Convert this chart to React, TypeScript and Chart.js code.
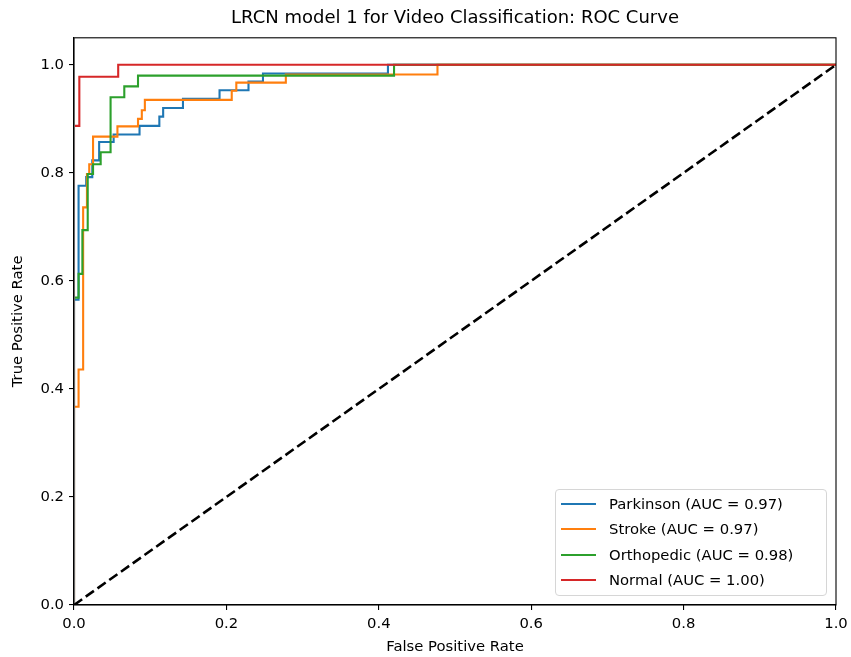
import React, { useEffect, useRef } from "react";
import { Chart, registerables } from "chart.js";

Chart.register(...registerables);

const chartTitle = "LRCN model 1 for Video Classification: ROC Curve";
const xLabel = "False Positive Rate";
const yLabel = "True Positive Rate";
const classNames = ["Parkinson", "Stroke", "Orthopedic", "Normal"];
const aucValues = [0.97, 0.97, 0.98, 1.0];
const classColors = ["#1f77b4", "#ff7f0e", "#2ca02c", "#d62728"];
const tickValues = [0, 0.2, 0.4, 0.6, 0.8, 1.0];

const parkinsonFpr = [0, 0, 0.006, 0.006, 0.016, 0.016, 0.024, 0.024, 0.033, 0.033, 0.052, 0.052, 0.086, 0.086, 0.112, 0.112, 0.117, 0.117, 0.143, 0.143, 0.191, 0.191, 0.229, 0.229, 0.248, 0.248, 0.412, 0.412, 1.0];
const parkinsonTpr = [0, 0.565, 0.565, 0.776, 0.776, 0.792, 0.792, 0.823, 0.823, 0.857, 0.857, 0.871, 0.871, 0.887, 0.887, 0.904, 0.904, 0.92, 0.92, 0.937, 0.937, 0.953, 0.953, 0.969, 0.969, 0.984, 0.984, 1.0, 1.0];

const strokeFpr = [0, 0, 0.006, 0.006, 0.012, 0.012, 0.017, 0.017, 0.02, 0.02, 0.025, 0.025, 0.057, 0.057, 0.084, 0.084, 0.089, 0.089, 0.093, 0.093, 0.207, 0.207, 0.213, 0.213, 0.278, 0.278, 0.477, 0.477, 1.0];
const strokeTpr = [0, 0.367, 0.367, 0.436, 0.436, 0.736, 0.736, 0.798, 0.798, 0.816, 0.816, 0.867, 0.867, 0.886, 0.886, 0.9, 0.9, 0.916, 0.916, 0.935, 0.935, 0.952, 0.952, 0.967, 0.967, 0.982, 0.982, 1.0, 1.0];

const orthopedicFpr = [0, 0, 0.006, 0.006, 0.011, 0.011, 0.018, 0.018, 0.025, 0.025, 0.035, 0.035, 0.048, 0.048, 0.066, 0.066, 0.084, 0.084, 0.42, 0.42, 1.0];
const orthopedicTpr = [0, 0.569, 0.569, 0.613, 0.613, 0.694, 0.694, 0.798, 0.798, 0.816, 0.816, 0.838, 0.838, 0.94, 0.94, 0.96, 0.96, 0.98, 0.98, 1.0, 1.0];

const normalFpr = [0, 0, 0.007, 0.007, 0.058, 0.058, 1.0];
const normalTpr = [0, 0.887, 0.887, 0.978, 0.978, 1.0, 1.0];

const chanceFpr = [0, 1];
const chanceTpr = [0, 1];

const seriesFpr = [parkinsonFpr, strokeFpr, orthopedicFpr, normalFpr];
const seriesTpr = [parkinsonTpr, strokeTpr, orthopedicTpr, normalTpr];

const FONT = "DejaVu Sans";

function toPoints(xs: number[], ys: number[]) {
  return xs.map((x, i) => ({ x, y: ys[i] }));
}

function legendText(i: number) {
  return `${classNames[i]} (AUC = ${aucValues[i].toFixed(2)})`;
}

export default function App() {
  const ref = useRef<HTMLCanvasElement>(null);

  useEffect(() => {
    document.body.style.margin = "0";
    const frame = {
      id: "frame",
      afterDatasetsDraw(chart: any) {
        const { ctx, chartArea: a } = chart;
        ctx.save();
        ctx.strokeStyle = "#000";
        ctx.lineWidth = 1.1;
        ctx.strokeRect(a.left, a.top, a.right - a.left, a.bottom - a.top);
        ctx.restore();
      },
    };

    const datasets: any[] = classNames.map((name, i) => ({
      label: legendText(i),
      data: toPoints(seriesFpr[i], seriesTpr[i]),
      borderColor: classColors[i],
      backgroundColor: classColors[i],
      borderWidth: 2.1,
      pointRadius: 0,
      tension: 0,
      fill: false,
      order: 4 - i,
      clip: { left: -1, right: 2, top: 2, bottom: 0 },
      borderJoinStyle: "miter",
      borderCapStyle: "butt",
    }));
    datasets.push({
      label: "chance",
      data: toPoints(chanceFpr, chanceTpr),
      borderColor: "#000",
      borderWidth: 2.6,
      borderDash: [10, 4.4],
      pointRadius: 0,
      fill: false,
      order: 0,
      clip: { left: 0, right: 0, top: 0, bottom: 0 },
    });

    const tickFont = { family: FONT, size: 14.8 };

    const chart = new Chart(ref.current as HTMLCanvasElement, {
      type: "line",
      data: { datasets },
      options: {
        responsive: false,
        animation: false,
        events: [],
        layout: { padding: { left: 0, right: 15, top: 0, bottom: 0 } },
        plugins: {
          legend: { display: false },
          tooltip: { enabled: false },
          title: {
            display: true,
            text: chartTitle,
            color: "#000",
            fullSize: false,
            font: { family: FONT, size: 18, weight: "normal" },
            padding: { top: 7.2, bottom: 9 },
          },
        },
        scales: {
          x: {
            type: "linear",
            min: 0,
            max: 1,
            afterFit: (s: any) => {
              s.height = 52;
              s.paddingLeft = 0;
              s.paddingRight = 0;
            },
            afterBuildTicks: (s: any) => {
              s.ticks = tickValues.map((v) => ({ value: v }));
            },
            ticks: {
              callback: (v: any) => Number(v).toFixed(1),
              color: "#000",
              font: tickFont,
              padding: 5,
              maxRotation: 0,
              autoSkip: false,
            },
            grid: {
              drawOnChartArea: false,
              drawTicks: true,
              tickLength: 5,
              color: "#000",
              lineWidth: 1.1,
            },
            border: { display: true, color: "#000", width: 1.1 },
            title: {
              display: true,
              text: xLabel,
              color: "#000",
              font: tickFont,
              padding: { top: 0, bottom: 1.1 },
            },
          },
          y: {
            type: "linear",
            min: 0,
            max: 1.05,
            afterFit: (s: any) => {
              s.width = 74;
              s.paddingTop = 0;
              s.paddingBottom = 0;
            },
            afterBuildTicks: (s: any) => {
              s.ticks = tickValues.map((v) => ({ value: v }));
            },
            ticks: {
              callback: (v: any) => Number(v).toFixed(1),
              color: "#000",
              font: tickFont,
              padding: 5,
              autoSkip: false,
            },
            grid: {
              drawOnChartArea: false,
              drawTicks: true,
              tickLength: 5,
              color: "#000",
              lineWidth: 1.1,
            },
            border: { display: true, color: "#000", width: 1.1 },
            title: {
              display: true,
              text: yLabel,
              color: "#000",
              font: tickFont,
              padding: { top: 9.1, bottom: 0 },
            },
          },
        },
      } as any,
      plugins: [frame],
    });
    return () => chart.destroy();
  }, []);

  const rowCenters = [13.7, 39.3, 65, 90.3];

  return (
    <div style={{ position: "absolute", left: 0, top: 0, width: 851, height: 657 }}>
      <canvas ref={ref} width={851} height={657} style={{ display: "block" }} />
      <div
        style={{
          position: "absolute",
          left: 555,
          top: 489,
          width: 272,
          height: 107,
          boxSizing: "border-box",
          border: "1px solid #d6d6d6",
          borderRadius: 4,
          background: "rgba(255,255,255,0.8)",
          fontFamily: FONT,
          fontSize: 14.8,
          color: "#000",
        }}
      >
        {classNames.map((n, i) => (
          <div
            key={n}
            style={{
              position: "absolute",
              left: 0,
              top: rowCenters[i] - 10,
              height: 20,
              display: "flex",
              alignItems: "center",
              whiteSpace: "nowrap",
            }}
          >
            <span
              style={{
                display: "inline-block",
                marginLeft: 5,
                width: 35,
                height: 2,
                background: classColors[i],
              }}
            />
            <span style={{ marginLeft: 13, lineHeight: "20px" }}>{legendText(i)}</span>
          </div>
        ))}
      </div>
    </div>
  );
}
